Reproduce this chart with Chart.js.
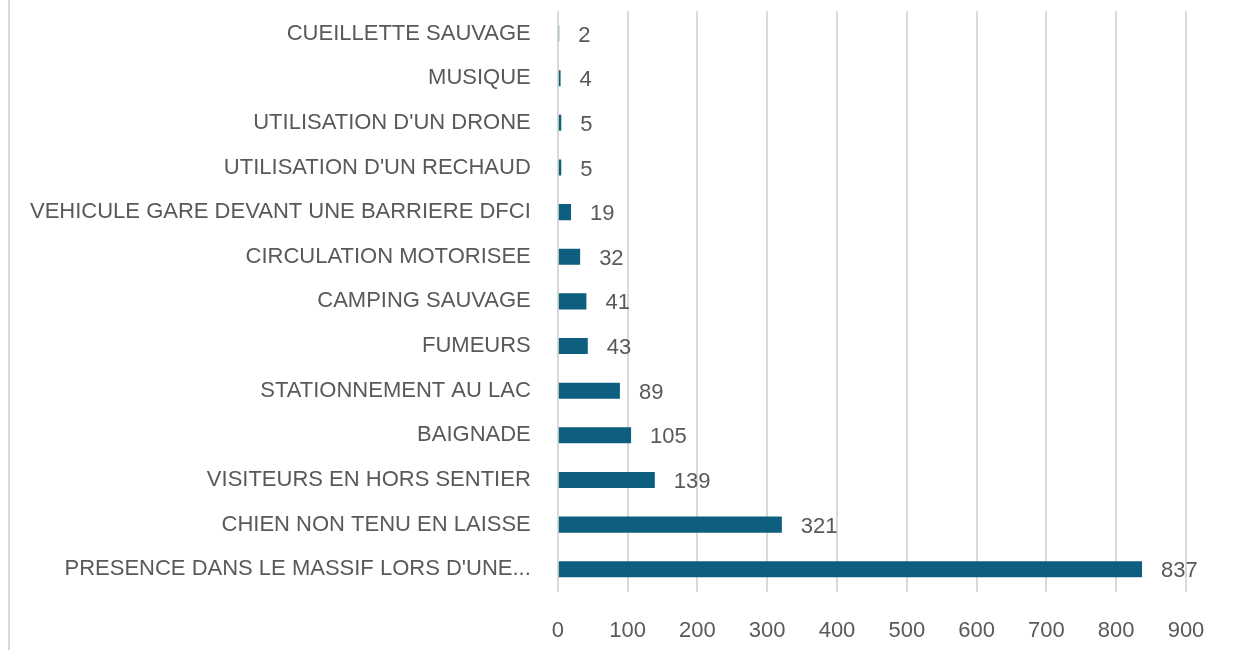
<!DOCTYPE html>
<html>
<head>
<meta charset="utf-8">
<script src="https://cdn.jsdelivr.net/npm/chart.js@4.4.1/dist/chart.umd.min.js"></script>
<style>
  html, body { margin: 0; padding: 0; background: #fff; overflow: hidden; }
  #frame { position: absolute; left: 8px; top: 0; width: 1229px; height: 650px; border-left: 2px solid #d9d9d9; }
  #wrap { position: absolute; left: 1px; top: -21px; width: 1226px; height: 699px; }
</style>
</head>
<body>
<div id="frame"><div id="wrap"><canvas id="infractions"></canvas></div></div>
<script>
// categories, top to bottom
const categories = [
  "CUEILLETTE SAUVAGE",
  "MUSIQUE",
  "UTILISATION D'UN DRONE",
  "UTILISATION D'UN RECHAUD",
  "VEHICULE GARE DEVANT UNE BARRIERE DFCI",
  "CIRCULATION MOTORISEE",
  "CAMPING SAUVAGE",
  "FUMEURS",
  "STATIONNEMENT AU LAC",
  "BAIGNADE",
  "VISITEURS EN HORS SENTIER",
  "CHIEN NON TENU EN LAISSE",
  "PRESENCE DANS LE MASSIF LORS D'UNE..."
];
const counts = [2, 4, 5, 5, 19, 32, 41, 43, 89, 105, 139, 321, 837];
const xTicks = [0, 100, 200, 300, 400, 500, 600, 700, 800, 900];

const barColor = "#0e5f7f";
const textColor = "#595959";
const fontFamily = "'Liberation Sans', Arial, sans-serif";

// value labels just after the bar end
const valueLabels = {
  id: "valueLabels",
  afterDatasetsDraw(chart) {
    const ctx = chart.ctx;
    const meta = chart.getDatasetMeta(0);
    ctx.save();
    ctx.fillStyle = textColor;
    ctx.font = "22px " + fontFamily;
    ctx.textBaseline = "middle";
    ctx.textAlign = "left";
    meta.data.forEach((bar, i) => {
      ctx.fillText(String(counts[i]), bar.x + 19, bar.y + 2);
    });
    ctx.restore();
  }
};

const config = {
  type: "bar",
  data: {
    labels: categories,
    datasets: [{
      data: counts,
      backgroundColor: barColor,
      borderWidth: 0,
      categoryPercentage: 0.36,
      barPercentage: 1
    }]
  },
  options: {
    indexAxis: "y",
    responsive: true,
    maintainAspectRatio: false,
    animation: false,
    layout: { padding: { top: 10, right: 51, bottom: 8, left: 0 } },
    plugins: {
      legend: { display: false },
      tooltip: { enabled: false }
    },
    scales: {
      x: {
        min: 0,
        max: 900,
        afterBuildTicks(axis) { axis.ticks = xTicks.map(v => ({ value: v })); },
        grid: { color: "#d9d9d9", lineWidth: 2, drawTicks: false },
        border: { display: false },
        ticks: { color: textColor, font: { size: 22, family: fontFamily }, padding: 26 }
      },
      y: {
        grid: { display: false },
        border: { display: false },
        ticks: { color: textColor, font: { size: 22, family: fontFamily }, padding: 19, autoSkip: false }
      }
    }
  },
  plugins: [valueLabels]
};

const chart = new Chart(document.getElementById("infractions"), config);
</script>
</body>
</html>
